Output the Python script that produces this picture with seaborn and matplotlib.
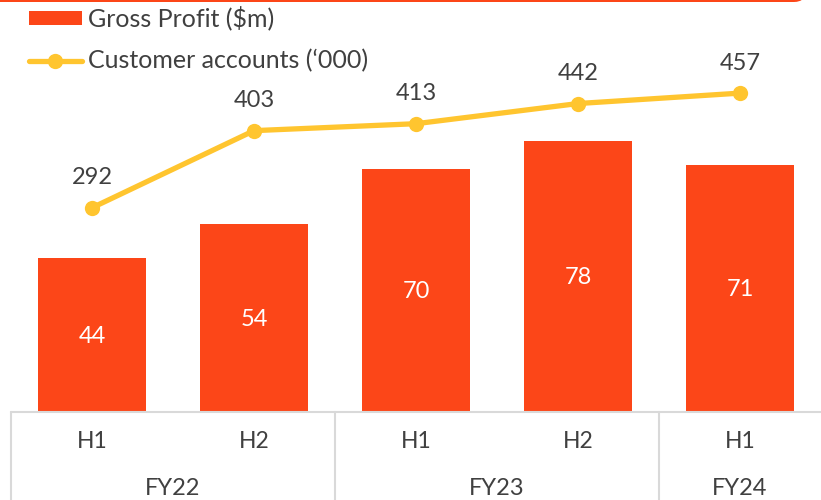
import numpy as np
import pandas as pd
import matplotlib
matplotlib.use("Agg")
import matplotlib.pyplot as plt
import matplotlib.transforms as mtransforms
from matplotlib.patches import Patch, FancyBboxPatch
from matplotlib.lines import Line2D
import seaborn as sns

# ---- data ----
halves = ["H1", "H2", "H1", "H2", "H1"]
years = ["FY22", "FY22", "FY23", "FY23", "FY24"]
gross_profit = [44, 54, 70, 78, 71]
customer_accounts = [292, 403, 413, 442, 457]
bar_label = "Gross Profit ($m)"
line_label = "Customer accounts (\u2018000)"

BAR_C = "#FC4618"
LINE_C = "#FFC52F"
TEXT_C = "#404040"
GRID_C = "#D9D9D9"

sns.set_theme(style="white")
plt.rcParams["font.family"] = ["Lato", "DejaVu Sans"]

W, H = 821, 500
fig = plt.figure(figsize=(W / 100, H / 100), dpi=100)
ax_bottom_px = 410.7
ax = fig.add_axes([11 / W, (H - ax_bottom_px) / H, 810 / W, ax_bottom_px / H])

pos = np.arange(len(gross_profit))
df = pd.DataFrame({"pos": pos, "gp": gross_profit, "ca": customer_accounts})

sns.barplot(data=df, x="pos", y="gp", color=BAR_C, width=0.67, saturation=1,
            ax=ax, native_scale=True, edgecolor="none")
ax.set_xlim(-0.5, len(pos) - 0.5)
ax.set_ylim(0, 118.7)

for x, v in zip(pos, gross_profit):
    ax.annotate(str(v), (x, v / 2), xytext=(0, -1.5), textcoords="offset points",
                ha="center", va="center", color="white", fontsize=17)

ax2 = ax.twinx()
sns.lineplot(data=df, x="pos", y="ca", color=LINE_C, linewidth=3.8,
             marker="o", markersize=11, markeredgewidth=0, ax=ax2)
ax2.set_ylim(0, 591)
ax2.set_xlim(-0.5, len(pos) - 0.5)
for x, v in zip(pos, customer_accounts):
    ax2.annotate(str(v), (x, v), xytext=(0, 21.5), textcoords="offset points",
                 ha="center", va="center", color=TEXT_C, fontsize=17)

for a in (ax, ax2):
    a.set_xlabel("")
    a.set_ylabel("")
    a.set_xticks([])
    a.set_yticks([])
    for s in a.spines.values():
        s.set_visible(False)

# category table below the plot
trans = mtransforms.blended_transform_factory(ax.transData, ax.transAxes)
px = 1 / ax_bottom_px
top_y = -1.3 * px
bot_y = -(H - ax_bottom_px) * px
ax.plot([-0.5, len(pos) - 0.5], [top_y, top_y], transform=trans, color=GRID_C,
        lw=1.5, clip_on=False)
uniq = list(dict.fromkeys(years))
bounds = [-0.5]
centers = []
for y in uniq:
    idx = [i for i, yy in enumerate(years) if yy == y]
    centers.append((idx[0] + idx[-1]) / 2)
    bounds.append(idx[-1] + 0.5)
for b in bounds[:-1]:
    ax.plot([b, b], [top_y, bot_y], transform=trans, color=GRID_C, lw=1.5,
            clip_on=False)
for x, h in zip(pos, halves):
    ax.text(x, -31 * px, h, transform=trans, ha="center", va="center",
            color=TEXT_C, fontsize=16.5)
for c, y in zip(centers, uniq):
    ax.text(c, -78 * px, y, transform=trans, ha="center", va="center",
            color=TEXT_C, fontsize=17)

# legend
handles = [Patch(facecolor=BAR_C, edgecolor="none", label=bar_label),
           Line2D([0], [0], color=LINE_C, lw=3.8, marker="o", markersize=11,
                  markeredgewidth=0, label=line_label)]
fig.legend(handles=handles, loc="upper left", bbox_to_anchor=(29 / W, 1 - 6 / H),
           frameon=False, fontsize=18, labelcolor=TEXT_C, handlelength=2.1,
           handleheight=0.52, handletextpad=0.25, labelspacing=0.75,
           borderaxespad=0, borderpad=0)

# top banner edge
banner = FancyBboxPatch((-40, H - 2), 846, 60,
                        boxstyle="round,pad=0,rounding_size=12",
                        transform=None, facecolor=BAR_C, edgecolor="none",
                        clip_on=False)
fig.add_artist(banner)

fig.savefig("out.png", dpi=100)
